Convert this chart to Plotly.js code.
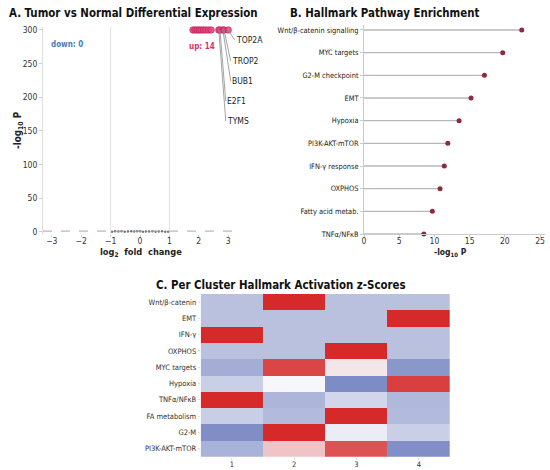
<!DOCTYPE html>
<html>
<head>
<meta charset="utf-8">
<script src="https://cdn.plot.ly/plotly-3.0.1.min.js"></script>
<style>html,body{margin:0;padding:0;background:#fff;}#chart{width:550px;height:470px;}</style>
</head>
<body>
<div id="chart"></div>
<script>
// ---------- Panel A: volcano ----------
const upGeneX = [1.80, 1.87, 1.94, 2.01, 2.08, 2.16, 2.24, 2.33, 2.42, 2.68, 2.72, 2.82, 2.86, 3.00];
const upGeneY = [300, 300, 300, 300, 300, 300, 300, 300, 300, 300, 300, 300, 300, 300];
const upGeneNames = ["", "", "", "", "", "", "", "", "", "TYMS", "E2F1", "BUB1", "TROP2", "TOP2A"];
const nsGeneX = [-0.95, -0.85, -0.74, -0.63, -0.52, -0.41, -0.3, -0.2, -0.1, 0.0, 0.1, 0.2, 0.31, 0.42, 0.53, 0.64, 0.75, 0.86, 0.96];
const nsGeneY = [0.4, 0.9, 0.6, 1.1, 0.5, 0.8, 1.0, 0.7, 0.9, 1.2, 0.5, 0.8, 0.6, 1.0, 0.4, 0.7, 0.9, 0.5, 0.3];
const fcThreshold = 1;
const pThreshold = 1.3;
const volcanoXTicks = [-3, -2, -1, 0, 1, 2, 3];
const volcanoYTicks = [0, 50, 100, 150, 200, 250, 300];
const upCount = 14;
const downCount = 0;

// ---------- Panel B: enrichment lollipop ----------
const pathways = ["Wnt/β-catenin signalling", "MYC targets", "G2-M checkpoint", "EMT", "Hypoxia",
  "PI3K-AKT-mTOR", "IFN-γ response", "OXPHOS", "Fatty acid metab.", "TNFα/NFκB"];
const pathwayScores = [22.4, 19.7, 17.1, 15.2, 13.5, 11.9, 11.4, 10.8, 9.7, 8.5];
const enrichXTicks = [0, 5, 10, 15, 20, 25];

// ---------- Panel C: heatmap ----------
const clusters = [1, 2, 3, 4];
const hallmarks = ["Wnt/β-catenin", "EMT", "IFN-γ", "OXPHOS", "MYC targets", "Hypoxia",
  "TNFα/NFκB", "FA metabolism", "G2-M", "PI3K-AKT-mTOR"];
const zWnt     = [-0.50,  1.00, -0.50, -0.50];
const zEMT     = [-0.50, -0.50, -0.50,  1.00];
const zIFN     = [ 1.00, -0.50, -0.50, -0.50];
const zOXPHOS  = [-0.50, -0.50,  1.00, -0.50];
const zMYC     = [-0.68,  0.87,  0.09, -0.88];
const zHypoxia = [-0.37,  0.00, -0.98,  0.90];
const zTNF     = [ 1.00, -0.60, -0.30, -0.57];
const zFA      = [-0.38, -0.55,  1.00, -0.55];
const zG2M     = [-0.96,  1.00, -0.10, -0.37];
const zPI3K    = [-0.63,  0.25,  0.80, -0.95];
const zMatrix = [zWnt, zEMT, zIFN, zOXPHOS, zMYC, zHypoxia, zTNF, zFA, zG2M, zPI3K];

// ---------- style ----------
const FONT = "Liberation Sans Narrow, Arial Narrow, DejaVu Sans Condensed, sans-serif";
const W = 550, H = 470;
const px = v => v / W;
const py = v => 1 - v / H;

const stemX = [], stemY = [];
pathways.forEach((p, i) => { stemX.push(0, pathwayScores[i], null); stemY.push(p, p, null); });

const traces = [
  { type: "scatter", mode: "markers", x: nsGeneX, y: nsGeneY, xaxis: "x", yaxis: "y",
    marker: { size: 2.5, color: "#777" }, hoverinfo: "skip", cliponaxis: false },
  { type: "scatter", mode: "markers", x: upGeneX, y: upGeneY, text: upGeneNames, xaxis: "x", yaxis: "y",
    marker: { size: 6.5, color: "rgba(220,70,120,0.85)", line: { color: "#c2185b", width: 0.6 } }, cliponaxis: false },
  { type: "scatter", mode: "lines", x: stemX, y: stemY, xaxis: "x2", yaxis: "y2",
    line: { color: "#b8b8b8", width: 1.3 }, hoverinfo: "skip", cliponaxis: false },
  { type: "scatter", mode: "markers", x: pathwayScores, y: pathways, xaxis: "x2", yaxis: "y2",
    marker: { size: 5, color: "#8e2a3c" }, cliponaxis: false },
  { type: "heatmap", x: clusters, y: hallmarks, z: zMatrix, xaxis: "x3", yaxis: "y3",
    zmin: -1, zmax: 1, showscale: false,
    colorscale: [[0, "#7b8ac3"], [0.5, "#f7f7fb"], [1, "#d62a2a"]] }
];

const labelGenes = ["TOP2A", "TROP2", "BUB1", "E2F1", "TYMS"];
const labelDx = [6.5, 6.6, 7.8, 5.8, 7.0];
const labelDy = [10, 31, 51, 71, 91];

const TITLE_SIZE = 11.4;
const tickFontA = { family: FONT, size: 8.5, color: "#333" };
const annotations = [
  { text: "<b>A. Tumor vs Normal Differential Expression</b>", xref: "paper", yref: "paper", x: px(7), y: py(13),
    xanchor: "left", yanchor: "middle", showarrow: false, font: { family: FONT, size: TITLE_SIZE, color: "#111" } },
  { text: "<b>B. Hallmark Pathway Enrichment</b>", xref: "paper", yref: "paper", x: px(288), y: py(13),
    xanchor: "left", yanchor: "middle", showarrow: false, font: { family: FONT, size: TITLE_SIZE, color: "#111" } },
  { text: "<b>C. Per Cluster Hallmark Activation z-Scores</b>", xref: "paper", yref: "paper", x: px(281), y: py(285),
    xanchor: "center", yanchor: "middle", showarrow: false, font: { family: FONT, size: TITLE_SIZE, color: "#111" } },
  { text: "<b>log<sub>2</sub>  fold  change</b>", xref: "paper", yref: "paper", x: px(141), y: py(252),
    xanchor: "center", yanchor: "middle", showarrow: false, font: { family: FONT, size: 9.2, color: "#222" } },
  { text: "<b>-log<sub>10</sub> P</b>", xref: "paper", yref: "paper", x: px(18), y: py(130), textangle: -90,
    xanchor: "center", yanchor: "middle", showarrow: false, font: { family: FONT, size: 9.8, color: "#222" } },
  { text: "<b>-log<sub>10</sub> P</b>", xref: "paper", yref: "paper", x: px(450), y: py(252),
    xanchor: "center", yanchor: "middle", showarrow: false, font: { family: FONT, size: 8.5, color: "#222" } },
  { text: "<b>down: " + downCount + "</b>", xref: "paper", yref: "paper", x: px(49), y: py(44),
    xanchor: "left", yanchor: "middle", showarrow: false, font: { family: FONT, size: 8, color: "#4a7cc0" } },
  { text: "<b>up: " + upCount + "</b>", xref: "paper", yref: "paper", x: px(187), y: py(47),
    xanchor: "left", yanchor: "middle", showarrow: false, font: { family: FONT, size: 8, color: "#d6336c" } }
];
labelGenes.forEach((g, k) => {
  const i = upGeneNames.indexOf(g);
  annotations.push({ text: g, xref: "x", yref: "y", x: upGeneX[i], y: upGeneY[i],
    ax: labelDx[k], ay: labelDy[k], axref: "pixel", ayref: "pixel",
    xanchor: "left", yanchor: "middle", showarrow: true, arrowhead: 0, arrowwidth: 0.8,
    arrowcolor: "#8a8a8a", standoff: 0, borderpad: 0, font: { family: FONT, size: 8.5, color: "#222" } });
});

const shapes = [
  { type: "line", xref: "x", yref: "y domain", x0: -fcThreshold, x1: -fcThreshold, y0: 0, y1: 1,
    line: { color: "#e2e2e2", width: 1 } },
  { type: "line", xref: "x", yref: "y domain", x0: fcThreshold, x1: fcThreshold, y0: 0, y1: 1,
    line: { color: "#e2e2e2", width: 1 } },
  { type: "line", xref: "x domain", yref: "y", x0: 0, x1: 1, y0: pThreshold, y1: pThreshold,
    line: { color: "#a8a8a8", width: 1, dash: "dash" } }
];

const layout = {
  width: W, height: H, margin: { l: 0, r: 0, t: 0, b: 0 },
  paper_bgcolor: "#fff", plot_bgcolor: "#fff", showlegend: false,
  font: { family: FONT, color: "#333" },
  xaxis: { domain: [px(43), px(237)], anchor: "y", range: [-3.3, 3.3], tickvals: volcanoXTicks,
    showgrid: false, zeroline: false, showline: false, ticks: "outside", ticklen: 2, tickcolor: "#ccc",
    ticklabelstandoff: -3, tickfont: tickFontA },
  yaxis: { domain: [py(234), py(26.6)], anchor: "x", range: [-3, 305], tickvals: volcanoYTicks,
    showgrid: false, zeroline: false, showline: true, linecolor: "#ddd", ticks: "outside", ticklen: 3,
    tickcolor: "#ccc", tickfont: tickFontA },
  xaxis2: { domain: [px(364), px(545)], anchor: "y2", range: [0, 25.7], tickvals: enrichXTicks,
    showgrid: false, zeroline: false, showline: true, linecolor: "#ccc", ticks: "outside", ticklen: 2,
    tickcolor: "#ccc", ticklabelstandoff: -3, tickfont: { family: FONT, size: 8.5, color: "#333" } },
  yaxis2: { domain: [py(234), py(25)], anchor: "x2", type: "category", categoryorder: "array",
    categoryarray: pathways, range: [9.0, -0.22], showgrid: false, zeroline: false, showline: true,
    linecolor: "#ccc", ticks: "outside", ticklen: 3, tickcolor: "#ccc",
    tickfont: { family: FONT, size: 7.4, color: "#222" } },
  xaxis3: { domain: [px(200.7), px(450)], anchor: "y3", tickvals: clusters, showgrid: false, zeroline: false,
    ticks: "outside", ticklen: 2, tickcolor: "#ddd", ticklabelstandoff: -2,
    tickfont: { family: FONT, size: 7.5, color: "#333" } },
  yaxis3: { domain: [py(456.7), py(294)], anchor: "x3", type: "category", autorange: "reversed",
    showgrid: false, zeroline: false, ticks: "outside", ticklen: 2, tickcolor: "#ddd",
    tickfont: { family: FONT, size: 7.5, color: "#333" } },
  annotations: annotations,
  shapes: shapes
};

Plotly.newPlot("chart", traces, layout, { displayModeBar: false, staticPlot: true });
</script>
</body>
</html>
